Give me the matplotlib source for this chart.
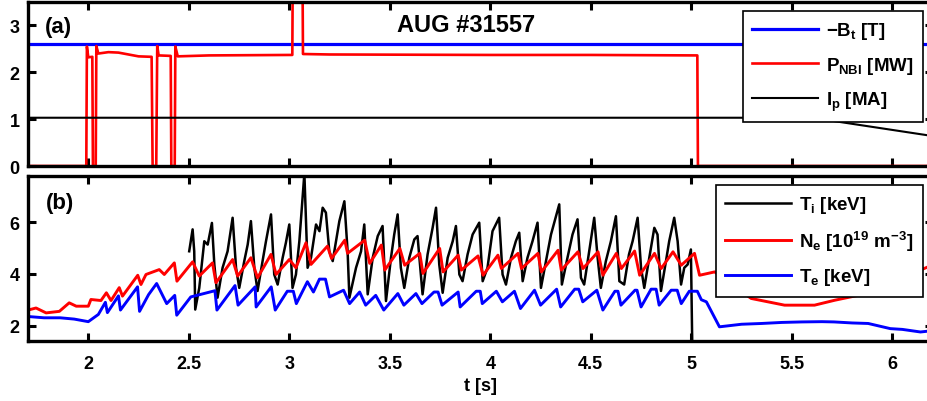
import numpy as np
import matplotlib
matplotlib.use("Agg")
import matplotlib.pyplot as plt

plt.rcParams['font.family'] = ['Liberation Sans', 'DejaVu Sans']
plt.rcParams['font.weight'] = 'bold'
plt.rcParams['mathtext.fontset'] = 'custom'
plt.rcParams['mathtext.rm'] = 'Liberation Sans:bold'
plt.rcParams['mathtext.it'] = 'Liberation Sans:bold'
plt.rcParams['mathtext.bf'] = 'Liberation Sans:bold'

# --- panel (a) ---
t_bt = [1.7, 6.2]
bt = [2.6, 2.6]

t_ip = [1.7, 3.2, 5.6, 6.2]
ip = [1.03, 1.03, 1.03, 0.64]

t_nbi = [1.7, 1.99, 1.993, 2.0, 2.02, 2.023, 2.037, 2.04, 2.05, 2.1, 2.15, 2.2,
         2.25, 2.315, 2.32, 2.338, 2.343, 2.35, 2.41, 2.413, 2.43, 2.433, 2.445,
         2.6, 3.0, 3.015, 3.017, 3.066, 3.068, 3.2, 4.0, 4.5, 5.03, 5.033, 6.2]
nbi = [0, 0, 2.55, 2.32, 2.33, 0, 0, 2.56, 2.4, 2.43, 2.42, 2.38,
       2.34, 2.33, 0, 0, 2.56, 2.36, 2.35, 0, 0, 2.55, 2.34,
       2.36, 2.37, 2.37, 3.9, 3.9, 2.39, 2.38, 2.37, 2.37, 2.36, 0, 0]

# --- panel (b) ---
t_te = [1.7, 1.78, 1.86, 1.93, 2.0, 2.05, 2.085, 2.095, 2.15, 2.16, 2.245, 2.255,
        2.3, 2.34, 2.39, 2.43, 2.44, 2.51, 2.63, 2.64, 2.73, 2.745, 2.83, 2.835,
        2.91, 2.93, 2.99, 3.02, 3.035, 3.09, 3.12, 3.15, 3.18, 3.2, 3.27, 3.3,
        3.35, 3.38, 3.43, 3.47, 3.54, 3.57, 3.63, 3.66, 3.72, 3.74, 3.76, 3.84,
        3.85, 3.93, 3.95, 3.96, 4.03, 4.06, 4.12, 4.15, 4.22, 4.25, 4.33, 4.35,
        4.42, 4.44, 4.46, 4.53, 4.56, 4.62, 4.635, 4.65, 4.72, 4.73, 4.75, 4.8,
        4.825, 4.84, 4.9, 4.93, 4.95, 4.99, 5.03, 5.05, 5.075, 5.14, 5.25, 5.35,
        5.45, 5.55, 5.65, 5.71, 5.8, 5.88, 5.99, 6.05, 6.14, 6.2]
te = [2.35, 2.3, 2.3, 2.25, 2.15, 2.43, 2.9, 2.5, 3.15, 2.6, 3.5, 2.55,
      3.2, 3.63, 2.85, 3.17, 2.4, 3.11, 3.35, 2.6, 3.55, 2.79, 3.5, 2.72,
      3.5, 2.6, 3.33, 3.33, 2.85, 3.7, 3.3, 3.8, 3.8, 3.11, 3.37, 2.85,
      3.3, 2.79, 3.17, 2.6, 3.24, 2.79, 3.24, 2.85, 3.3, 3.3, 2.79, 3.3,
      2.72, 3.33, 3.33, 2.85, 3.33, 2.92, 3.33, 2.66, 3.37, 2.79, 3.41, 2.72,
      3.41, 3.41, 2.92, 3.37, 2.6, 3.33, 3.33, 2.79, 3.37, 3.37, 2.72, 3.41,
      3.41, 2.79, 3.37, 3.37, 2.85, 3.33, 3.33, 3.0, 2.92, 1.95, 2.05, 2.08,
      2.12, 2.14, 2.15, 2.14, 2.1, 2.08, 1.88, 1.85, 1.75, 1.8]

t_ne = [1.71, 1.74, 1.79, 1.856, 1.905, 1.94, 2.0, 2.013, 2.063, 2.09, 2.113, 2.154,
        2.17, 2.246, 2.262, 2.287, 2.353, 2.378, 2.428, 2.441, 2.519, 2.552, 2.618,
        2.635, 2.718, 2.743, 2.809, 2.842, 2.909, 2.934, 3.0, 3.033, 3.083, 3.108,
        3.19, 3.21, 3.276, 3.29, 3.375, 3.4, 3.458, 3.475, 3.55, 3.574, 3.649, 3.665,
        3.748, 3.765, 3.84, 3.856, 3.939, 3.964, 4.038, 4.055, 4.138, 4.155, 4.237,
        4.254, 4.337, 4.353, 4.436, 4.461, 4.536, 4.56, 4.627, 4.652, 4.718, 4.743,
        4.817, 4.85, 4.909, 4.95, 5.016, 5.041, 5.116, 5.2, 5.298, 5.464, 5.613,
        5.713, 5.829, 5.95, 6.08, 6.2]
ne = [2.62, 2.68, 2.49, 2.55, 2.88, 2.75, 2.75, 3.01, 2.97, 3.27, 2.97, 3.47,
      3.14, 3.95, 3.59, 3.98, 4.17, 3.98, 4.43, 3.72, 4.47, 3.92, 4.43,
      3.66, 4.56, 3.92, 4.63, 3.85, 4.76, 3.98, 4.56, 4.24, 5.21, 4.37,
      5.08, 4.6, 5.31, 4.8, 5.31, 4.41, 5.12, 4.15, 4.99, 4.34, 4.8, 4.02,
      4.99, 4.08, 4.73, 4.15, 4.7, 3.95, 4.73, 4.21, 4.8, 4.21, 4.8,
      4.08, 4.92, 4.15, 4.86, 4.21, 4.86, 3.95, 4.8, 4.21, 4.89, 3.95,
      4.8, 4.21, 4.86, 4.34, 4.8, 3.95, 4.08, 3.6, 3.05, 2.79, 2.79,
      2.98, 3.17, 3.6, 3.95, 4.35]

t_ti = [2.502, 2.519, 2.527, 2.532, 2.552, 2.577, 2.594, 2.615, 2.627, 2.643, 2.668,
        2.693, 2.718, 2.735, 2.751, 2.776, 2.793, 2.809, 2.826, 2.842, 2.867, 2.884,
        2.909, 2.925, 2.942, 2.967, 2.983, 3.0, 3.016, 3.033, 3.05, 3.075, 3.091,
        3.108, 3.133, 3.15, 3.166, 3.182, 3.199, 3.216, 3.249, 3.274, 3.29, 3.299,
        3.332, 3.357, 3.373, 3.39, 3.415, 3.44, 3.464, 3.481, 3.506, 3.522, 3.539,
        3.555, 3.572, 3.597, 3.622, 3.638, 3.663, 3.688, 3.713, 3.73, 3.746, 3.763,
        3.788, 3.813, 3.829, 3.846, 3.862, 3.887, 3.912, 3.945, 3.962, 3.986, 4.011,
        4.044, 4.061, 4.078, 4.103, 4.127, 4.144, 4.161, 4.185, 4.21, 4.235, 4.252,
        4.277, 4.302, 4.343, 4.356, 4.384, 4.409, 4.434, 4.451, 4.467, 4.492, 4.517,
        4.534, 4.55, 4.575, 4.6, 4.625, 4.642, 4.666, 4.69, 4.708, 4.733, 4.75,
        4.766, 4.791, 4.816, 4.832, 4.849, 4.874, 4.89, 4.915, 4.932, 4.949, 4.965,
        4.982, 4.998, 5.007]
ti = [4.88, 5.73, 4.88, 2.62, 3.46, 5.27, 5.14, 5.98, 4.37, 3.08, 4.24,
      4.88, 6.18, 4.24, 3.46, 4.5, 5.14, 6.05, 4.24, 3.34, 4.5, 5.27,
      6.31, 3.98, 3.59, 4.63, 5.21, 5.92, 3.46, 3.98, 5.27, 7.9, 4.24,
      4.63, 5.92, 5.66, 6.57, 6.38, 4.88, 4.5, 6.05, 6.82, 4.88, 3.08,
      4.24, 4.88, 5.92, 3.21, 4.63, 5.47, 5.86, 2.95, 4.63, 5.53, 6.31,
      4.24, 3.46, 4.63, 5.34, 5.47, 3.21, 4.76, 5.79, 6.57, 4.37, 3.27,
      4.63, 5.27, 5.86, 3.98, 3.72, 4.76, 5.53, 5.99, 3.72, 4.24, 5.66,
      6.18, 3.98, 3.59, 4.63, 5.27, 5.6, 3.72, 4.63, 5.27, 5.99, 3.46,
      4.5, 5.53, 6.7, 3.59, 4.63, 5.53, 6.12, 3.85, 3.59, 4.88, 6.18,
      4.63, 3.46, 4.5, 5.27, 6.24, 3.72, 3.59, 4.76, 5.27, 6.18, 4.24,
      3.46, 4.63, 5.79, 5.53, 3.34, 4.5, 5.27, 6.18, 5.27, 3.59, 4.24,
      4.37, 4.95, 0.0]

xticks = [2, 2.5, 3, 3.5, 4, 4.5, 5, 5.5, 6]
xticklabels = ['2', '2.5', '3', '3.5', '4', '4.5', '5', '5.5', '6']

W, H = 927, 402
fig = plt.figure(figsize=(W / 100, H / 100), dpi=100)
left = 28 / W
width = 904.5 / W
ax1 = fig.add_axes([left, 1 - 167 / H, width, 164 / H])
ax2 = fig.add_axes([left, 1 - 342 / H, width, 165 / H])

ax1.plot(t_bt, bt, color='#0000ff', lw=2.3, label=r'$-B_t$ [T]')
ax1.plot(t_nbi, nbi, color='#ff0000', lw=1.9, label=r'$P_{NBI}$ [MW]')
ax1.plot(t_ip, ip, color='black', lw=1.5, label=r'$I_p$ [MA]')
ax1.set_xlim(1.7, 6.2)
ax1.set_ylim(0, 3.5)
ax1.set_yticks([0, 1, 2, 3])
ax1.set_xticks(xticks)
ax1.set_xticklabels([])
ax1.text(0.484, 0.86, 'AUG #31557', transform=ax1.transAxes, ha='center',
         va='center', fontsize=17, fontweight='bold')
ax1.text(0.034, 0.85, '(a)', transform=ax1.transAxes, ha='center',
         va='center', fontsize=16, fontweight='bold')

ax2.plot(t_ti, ti, color='black', lw=1.8, label=r'$T_i$ [keV]')
ax2.plot(t_ne, ne, color='#ff0000', lw=2.1, label=r'$N_e$ [$10^{19}$ $m^{-3}$]')
ax2.plot(t_te, te, color='#0000ff', lw=2.1, label=r'$T_e$ [keV]')
ax2.set_xlim(1.7, 6.2)
ax2.set_ylim(1.4, 7.8)
ax2.set_yticks([2, 4, 6])
ax2.set_xticks(xticks)
ax2.set_xticklabels(xticklabels)
ax2.set_xlabel('t [s]', fontsize=13, fontweight='bold', labelpad=4)
ax2.text(0.035, 0.84, '(b)', transform=ax2.transAxes, ha='center',
         va='center', fontsize=16, fontweight='bold')

for ax in (ax1, ax2):
    for s in ax.spines.values():
        s.set_linewidth(2.4)
    ax.tick_params(direction='in', length=6, width=2.2, top=True, right=True,
                   labelsize=13, pad=6)
    ax.tick_params(axis='x', pad=10)
    for lab in ax.get_xticklabels() + ax.get_yticklabels():
        lab.set_fontweight('bold')

leg_kw = dict(fontsize=13.5, frameon=True, fancybox=False, framealpha=1,
              edgecolor='black', handlelength=3.5, handletextpad=0.45,
              borderpad=0.5, labelspacing=0.72, borderaxespad=0,
              loc='upper right', bbox_transform=fig.transFigure)
l1 = ax1.legend(bbox_to_anchor=(923 / W, 1 - 12 / H), **leg_kw)
l2 = ax2.legend(bbox_to_anchor=(923 / W, 1 - 186 / H), **leg_kw)
for l in (l1, l2):
    l.get_frame().set_linewidth(1.2)

fig.savefig('out.png', dpi=100)
